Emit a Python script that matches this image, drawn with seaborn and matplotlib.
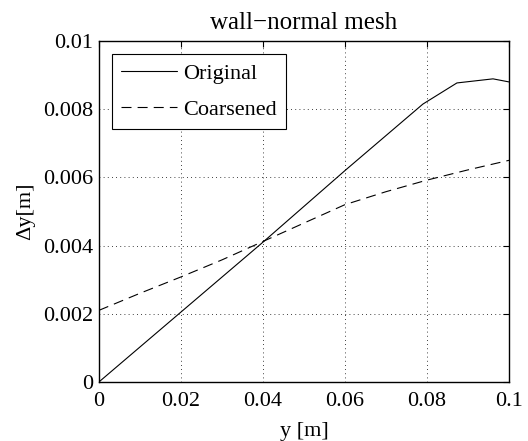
import matplotlib
matplotlib.use("Agg")
import matplotlib.pyplot as plt
import seaborn as sns
import pandas as pd

# Wall-normal distance and local cell size for the two meshes
y_original = [0.0, 0.02, 0.04, 0.06, 0.079, 0.0873, 0.0961, 0.1]
dy_original = [0.0, 0.00205, 0.0041, 0.0062, 0.00815, 0.00877, 0.00889, 0.0088]

y_coarse = [0.0, 0.01, 0.02, 0.03, 0.04, 0.05, 0.06, 0.07, 0.08, 0.09, 0.1]
dy_coarse = [0.0021, 0.0026, 0.00308, 0.00358, 0.00412, 0.00466, 0.0052,
             0.00558, 0.00592, 0.00622, 0.0065]

x_ticks = [0, 0.02, 0.04, 0.06, 0.08, 0.1]
x_tick_labels = ["0", "0.02", "0.04", "0.06", "0.08", "0.1"]
y_ticks = [0, 0.002, 0.004, 0.006, 0.008, 0.01]
y_tick_labels = ["0", "0.002", "0.004", "0.006", "0.008", "0.01"]

df = pd.concat([
    pd.DataFrame({"y": y_original, "dy": dy_original, "mesh": "Original"}),
    pd.DataFrame({"y": y_coarse, "dy": dy_coarse, "mesh": "Coarsened"}),
], ignore_index=True)

sns.set_style("white")
plt.rcParams["font.family"] = ["Liberation Serif", "DejaVu Serif"]
plt.rcParams["text.color"] = "black"
plt.rcParams["axes.labelcolor"] = "black"

fig = plt.figure(figsize=(5.28, 4.41), dpi=100)
ax = fig.add_axes([0.1875, 0.134, 0.7765, 0.773])

sns.lineplot(data=df, x="y", y="dy", hue="mesh", style="mesh",
             palette={"Original": "black", "Coarsened": "black"},
             dashes={"Original": "", "Coarsened": (9, 5.5)},
             linewidth=0.8, ax=ax, sort=False)

ax.set_xlim(0, 0.1)
ax.set_ylim(0, 0.01)
ax.set_xticks(x_ticks)
ax.set_xticklabels(x_tick_labels)
ax.set_yticks(y_ticks)
ax.set_yticklabels(y_tick_labels)
ax.tick_params(direction="in", length=4, width=0.8, top=True, right=True,
               labelsize=16, colors="black")
ax.tick_params(axis="x", pad=7)
ax.tick_params(axis="y", pad=4)
ax.grid(True, linestyle=(0, (1, 4)), color="black", linewidth=0.6)
for s in ax.spines.values():
    s.set_color("black")
    s.set_linewidth(1.0)

ax.set_title("wall\u2212normal mesh", fontsize=18, pad=9, color="black")
ax.set_xlabel("y [m]", fontsize=16, labelpad=8)
ax.set_ylabel("\u0394y[m]", fontsize=16, labelpad=6)

leg = ax.legend(loc="upper left", fontsize=16, frameon=True, fancybox=False,
                edgecolor="black", handlelength=2.5, borderpad=0.4,
                labelspacing=0.7, borderaxespad=0.6, handletextpad=0.3)
leg.get_frame().set_linewidth(0.8)
leg.get_frame().set_alpha(1)
for t in leg.get_texts():
    t.set_color("black")

fig.savefig("out.png", dpi=100)
